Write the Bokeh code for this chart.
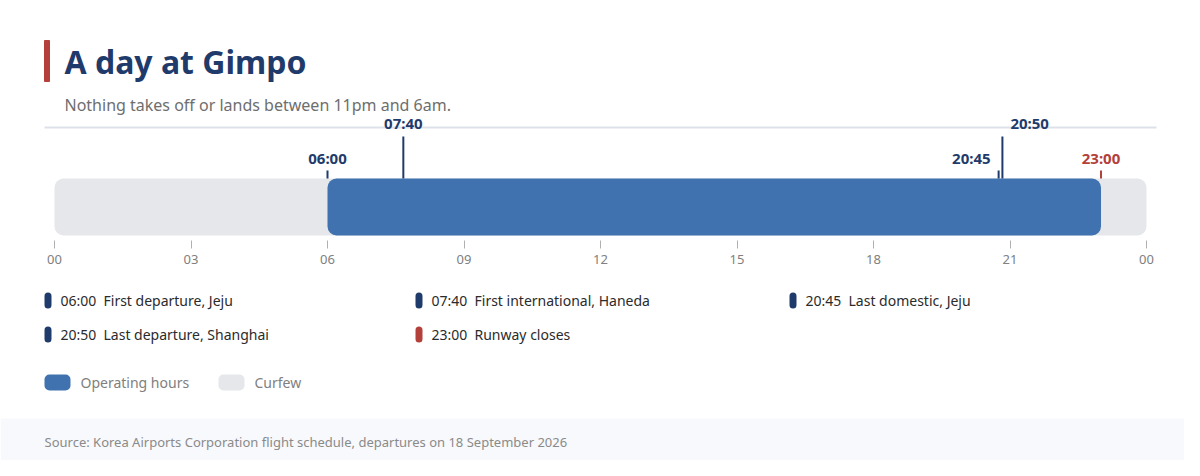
from bokeh.plotting import figure
from bokeh.models import Range1d, ColumnDataSource, FixedTicker
from bokeh.layouts import column
from bokeh.core.properties import value
from bokeh.embed import file_html
from bokeh.resources import INLINE

# ---------------- data ----------------
title = "A day at Gimpo"
subtitle = "Nothing takes off or lands between 11pm and 6am."
source_note = "Source: Korea Airports Corporation flight schedule, departures on 18 September 2026"

day_start, day_end = 0, 24
open_hour, close_hour = 6, 23

event_hours = [6.0, 7 + 40 / 60, 20 + 45 / 60, 20 + 50 / 60, 23.0]
event_labels = ["06:00", "07:40", "20:45", "20:50", "23:00"]
event_desc = ["First departure, Jeju", "First international, Haneda",
              "Last domestic, Jeju", "Last departure, Shanghai", "Runway closes"]
event_kind = ["flight", "flight", "flight", "flight", "closure"]
event_level = [0, 1, 0, 1, 0]

tick_hours = [0, 3, 6, 9, 12, 15, 18, 21, 24]
tick_labels = ["00", "03", "06", "09", "12", "15", "18", "21", "00"]

legend_names = ["Operating hours", "Curfew"]

# ---------------- style ----------------
FONT = "Noto Sans"
NAVY = "#1f3b6b"
RED = "#b3403a"
BLUE = "#3f72ae"
GREY = "#e6e7ea"
kind_color = {"flight": NAVY, "closure": RED}

W = 1184
PX_PER_H = 45.5
X0 = 54  # canvas x of hour 0
hx0 = (0 - X0) / PX_PER_H
hx1 = (W - X0) / PX_PER_H

# ---------------- top figure (title + timeline) ----------------
pa = figure(frame_width=W, frame_height=240, output_backend="svg", toolbar_location=None,
            x_range=Range1d(hx0, hx1), y_range=Range1d(240, 0),
            min_border_left=0, min_border_right=0, min_border_top=0, min_border_bottom=40,
            y_axis_location=None, outline_line_color=None, background_fill_color="white",
            border_fill_color="white")
pa.extra_x_ranges = {"px": Range1d(0, W)}
pa.grid.visible = False

# title block
pa.quad(left=[44], right=[49], top=[40], bottom=[81], color=RED, x_range_name="px")
pa.text(x=[64], y=[61], text=[title], text_font=value(FONT), text_font_style="bold",
        text_font_size="32px", text_color=NAVY, text_baseline="middle", x_range_name="px")
pa.text(x=[64], y=[104], text=[subtitle], text_font=value(FONT), text_font_size="16px",
        text_color="#6e6e6e", text_baseline="middle", x_range_name="px")
pa.segment(x0=[44], x1=[1156], y0=[127], y1=[127], line_color="#dde1ea", line_width=2,
           x_range_name="px")

BAR_TOP, BAR_BOT = 178, 235
pa.quad(left=[day_start], right=[day_end], top=[BAR_TOP], bottom=[BAR_BOT], fill_color=GREY,
        line_color=None, border_radius=9)
pa.quad(left=[open_hour], right=[close_hour], top=[BAR_TOP], bottom=[BAR_BOT], fill_color=BLUE,
        line_color=None, border_radius=9)

# event markers
n = len(event_hours)
colors = [kind_color[k] for k in event_kind]
tops = [BAR_TOP - (42 if lv else 8) for lv in event_level]
label_y = [122 if lv else 157 for lv in event_level]
aligns, offs = [], []
for i in range(n):
    near = any(j != i and abs(event_hours[j] - event_hours[i]) < 0.5 for j in range(n))
    if near and event_level[i] == 0:
        aligns.append("right"); offs.append(-8)
    elif near:
        aligns.append("left"); offs.append(8)
    else:
        aligns.append("center"); offs.append(0)

ev = ColumnDataSource(dict(x=event_hours, top=tops, bot=[BAR_TOP] * n, ly=label_y,
                           lab=event_labels, color=colors, align=aligns, off=offs))
pa.segment(x0="x", x1="x", y0="top", y1="bot", line_color="color", line_width=2, source=ev)
pa.text(x="x", y="ly", text="lab", text_color="color", text_align="align", x_offset="off",
        text_baseline="middle", text_font=value(FONT), text_font_style="bold",
        text_font_size="15px", source=ev)

ax = pa.xaxis[0]
ax.ticker = FixedTicker(ticks=tick_hours)
ax.major_label_overrides = {h: l for h, l in zip(tick_hours, tick_labels)}
ax.axis_line_color = None
ax.major_tick_line_color = "#b0b0b0"
ax.major_tick_in = 0
ax.major_tick_out = 8
ax.minor_tick_line_color = None
ax.major_label_standoff = 6
ax.major_label_text_font = FONT
ax.major_label_text_font_size = "13px"
ax.major_label_text_color = "#808080"

# ---------------- bottom figure (legend + source) ----------------
pb = figure(frame_width=W, frame_height=180, output_backend="svg", toolbar_location=None,
            x_range=Range1d(0, W), y_range=Range1d(460, 280),
            min_border=0, x_axis_location=None, y_axis_location=None,
            outline_line_color=None, background_fill_color="white", border_fill_color="white")
pb.grid.visible = False

col_x = [44, 415, 789]
row_y = [300, 334]
lx = [col_x[i % 3] for i in range(n)]
ly = [row_y[i // 3] for i in range(n)]
lg = ColumnDataSource(dict(px=[x + 3.5 for x in lx], tx=[x + 16 for x in lx],
                           dx=[x + 59 for x in lx], y=ly, color=colors,
                           lab=event_labels, desc=event_desc))
pb.rect(x="px", y="y", width=7, height=16, fill_color="color", line_color=None,
        border_radius=4, source=lg)
pb.text(x="tx", y="y", text="lab", text_baseline="middle", text_font=value(FONT),
        text_font_size="14px", text_color="#2b2b2b", source=lg)
pb.text(x="dx", y="y", text="desc", text_baseline="middle", text_font=value(FONT),
        text_font_size="14px", text_color="#2b2b2b", source=lg)

sw_x = [44, 218]
pb.rect(x=[x + 13 for x in sw_x], y=[382, 382], width=26, height=16, fill_color=[BLUE, GREY],
        line_color=None, border_radius=5)
pb.text(x=[x + 36 for x in sw_x], y=[382, 382], text=legend_names, text_baseline="middle",
        text_font=value(FONT), text_font_size="14px", text_color="#808080")

pb.quad(left=[0], right=[W], top=[418], bottom=[470], fill_color="#f7f9fc", line_color=None)
pb.text(x=[44], y=[441], text=[source_note], text_baseline="middle", text_font=value(FONT),
        text_font_size="13px", text_color="#8a8a8a")

layout = column(pa, pb, spacing=0)
open("out.html", "w").write(file_html(layout, INLINE))
